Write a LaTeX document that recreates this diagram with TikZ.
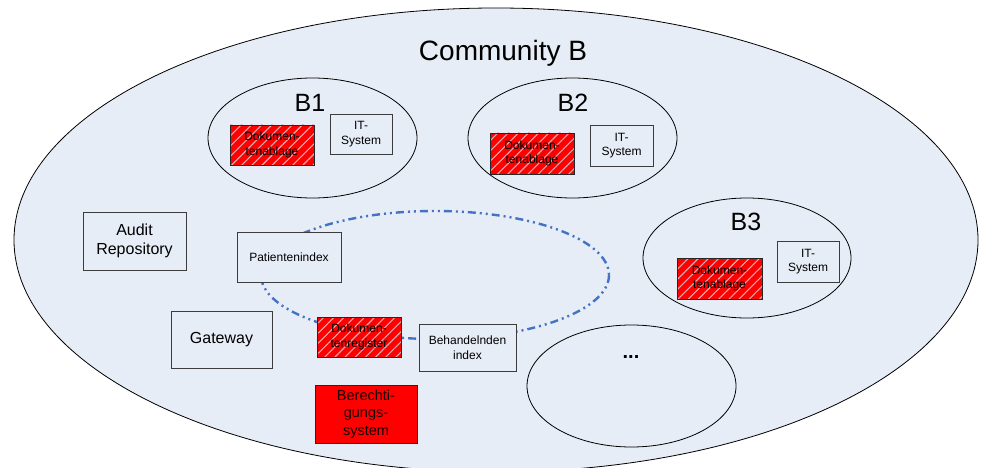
\documentclass[tikz,border=0pt]{standalone}
\usepackage{fontspec}
\setmainfont{Liberation Sans}
\usetikzlibrary{patterns.meta}

\definecolor{bg}{RGB}{231,237,247}
\definecolor{boxline}{RGB}{60,60,60}
\definecolor{ringblue}{RGB}{68,114,196}
\definecolor{stripe}{RGB}{225,170,180}

\tikzset{
  plainbox/.style={draw=boxline, line width=0.8pt, fill=bg, align=center,
    inner sep=0pt, font=\fontsize{12}{14.5}\selectfont},
  bigbox/.style={plainbox, font=\fontsize{16}{19}\selectfont},
  docstore/.style={plainbox, draw=black!85, preaction={fill=red},
    pattern={Lines[angle=45,distance=7.2pt,line width=1.1pt]},
    pattern color=stripe, text=black},
  areashape/.style={draw=black, line width=0.8pt, fill=bg},
  ringline/.style={draw=ringblue, line width=2.4pt,
    dash pattern=on 8pt off 4pt on 2pt off 4pt on 2pt off 4pt},
  areaname/.style={inner sep=0pt, font=\fontsize{25}{28}\selectfont}
}

\begin{document}
\begin{tikzpicture}[x=1pt, y=-1pt]
  \useasboundingbox (0,0) rectangle (982,468);
  \clip (0,0) rectangle (982,468);

  % community area
  \draw[areashape] (496,240) ellipse [x radius=482, y radius=232];
  \node[inner sep=0pt, font=\fontsize{28}{31}\selectfont] (comm) at (503,53) {Community B};

  % ring of the central services
  \draw[ringline] (435,275) ellipse [x radius=174, y radius=64];

  % member domains
  \draw[areashape] (312.5,138) ellipse [x radius=104.5, y radius=60];
  \draw[areashape] (572.5,138) ellipse [x radius=104.5, y radius=60];
  \draw[areashape] (747,258) ellipse [x radius=104, y radius=60];
  \draw[areashape] (631.5,386) ellipse [x radius=104.5, y radius=61];

  \node[areaname] (b1) at (310,103) {B1};
  \node[areaname] (b2) at (573,103) {B2};
  \node[areaname] (b3) at (746,222) {B3};
  \node[inner sep=0pt, font=\fontsize{20}{24}\bfseries] (more) at (631,357) {...};

  % B1
  \node[docstore, minimum width=84pt, minimum height=40pt] (doc1) at (272,145) {Dokumen-\\tenablage};
  \node[plainbox, minimum width=62pt, minimum height=40pt] (it1) at (361,134) {IT-\\System};
  % B2
  \node[docstore, minimum width=84pt, minimum height=41pt] (doc2) at (532,153.5) {Dokumen-\\tenablage};
  \node[plainbox, minimum width=63pt, minimum height=41pt] (it2) at (621.5,145.5) {IT-\\System};
  % B3
  \node[docstore, minimum width=85pt, minimum height=41pt] (doc3) at (719.5,278.5) {Dokumen-\\tenablage};
  \node[plainbox, minimum width=62pt, minimum height=41pt] (it3) at (808,261.5) {IT-\\System};

  % central services
  \node[plainbox, minimum width=104pt, minimum height=50pt] (pix) at (289,257) {Patientenindex};
  \node[docstore, minimum width=84pt, minimum height=40pt] (reg) at (359,337) {Dokumen-\\tenregister};
  \node[plainbox, minimum width=97pt, minimum height=47pt] (hpd) at (467.5,347.5) {Behandelnden\\index};
  \node[bigbox, minimum width=103pt, minimum height=58pt] (audit) at (134.5,241) {Audit\\Repository};
  \node[bigbox, minimum width=101pt, minimum height=57pt] (gw) at (221.5,339.5) {Gateway};
  \node[plainbox, fill=red, draw=black!85, text=black!90!red, font=\fontsize{14.5}{17.5}\selectfont,
        minimum width=102pt, minimum height=58pt] (auth) at (366,414) {Berechti-\\gungs-\\system};
\end{tikzpicture}
\end{document}
